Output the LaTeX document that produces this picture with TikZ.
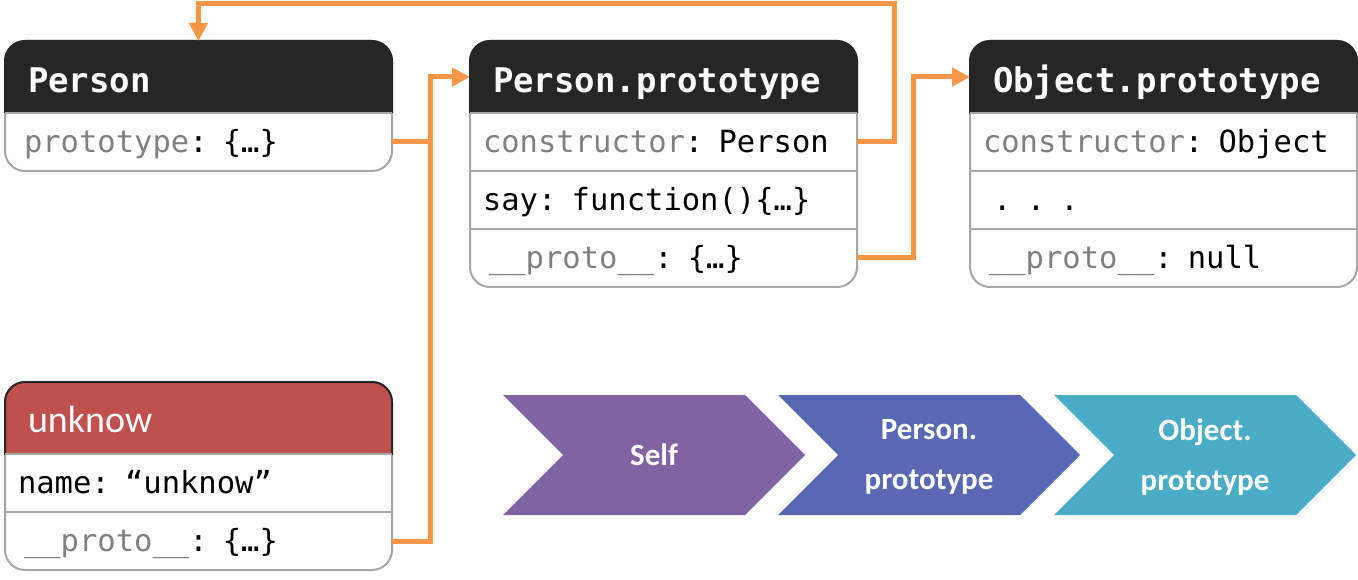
\documentclass[tikz,border=0pt]{standalone}
\usepackage{fontspec}
\setmainfont{Carlito}
\newfontfamily\mono{DejaVu Sans Mono}
\usetikzlibrary{arrows.meta,backgrounds}
\definecolor{hdrdark}{HTML}{262626}
\definecolor{hdrred}{HTML}{C0504D}
\definecolor{framegray}{HTML}{A6A6A6}
\definecolor{keygray}{HTML}{808080}
\definecolor{connorange}{HTML}{F79646}
\definecolor{chevpurple}{HTML}{8064A2}
\definecolor{chevblue}{HTML}{5A68B4}
\definecolor{chevteal}{HTML}{4BACC6}
\newcommand\kw[1]{\textcolor{keygray}{#1}}
\newcommand\drawframe[3]{%
  \begin{scope}[on background layer]
    \draw[framegray, line width=2pt, rounded corners=20pt] (#1.north west) rectangle (#2.south east);
    \begin{scope}
      \clip ([xshift=-4pt,yshift=4pt]#1.north west) rectangle ([xshift=4pt]#1.south east);
      \fill[#3, rounded corners=20pt] (#1.north west) rectangle (#2.south east);
      \draw[hdrdark, line width=2pt, rounded corners=20pt] (#1.north west) rectangle (#2.south east);
    \end{scope}
  \end{scope}}
\newcommand\divider[1]{\draw[framegray, line width=2pt] (#1.south west) -- (#1.south east);}
\newcommand\chevron[2]{\fill[#2] (#1,395) -- ++(242,0) -- ++(60,60) -- ++(-60,60) -- ++(-242,0) -- ++(60,-60) -- cycle;}
\begin{document}
\begin{tikzpicture}[x=1pt,y=-1pt,
  hdr/.style={rectangle, anchor=north west, minimum height=72pt, inner ysep=0pt,
    inner xsep=23pt, text width=341pt, align=left, text height=33pt, text depth=1pt,
    font={\mono\bfseries\fontsize{34pt}{40pt}\selectfont}, text=white, outer sep=0pt},
  uhdr/.style={hdr, font={\fontsize{38pt}{44pt}\selectfont}, text height=30pt, text depth=1pt},
  row/.style={rectangle, anchor=north west, minimum height=58pt, inner ysep=0pt,
    inner xsep=13pt, text width=361pt, align=left, text height=22pt, text depth=1pt,
    font={\mono\fontsize{30.5pt}{36pt}\selectfont}, outer sep=0pt},
  rowb/.style={row, inner xsep=19pt, text width=349pt},
  conn/.style={connorange, line width=5pt},
  arr/.style={conn, -{Triangle[length=18pt,width=18pt]}},
  chevtext/.style={text=white, align=center, font={\bfseries\fontsize{31pt}{50pt}\selectfont}}
]
\useasboundingbox (0,0) rectangle (1358,580);

% Person
\node[hdr] (person) at (5,41) {Person};
\node[rowb] (person-p) at (person.south west) {\kw{prototype}: \{…\}};
\drawframe{person}{person-p}{hdrdark}
\begin{scope}[on background layer]\divider{person}\end{scope}

% Person.prototype
\node[hdr] (pp) at (470,41) {Person.prototype};
\node[row] (pp-c) at (pp.south west) {\kw{constructor}: Person};
\node[row] (pp-s) at (pp-c.south west) {say: function()\{…\}};
\node[rowb] (pp-p) at (pp-s.south west) {\kw{\_\_proto\_\_}: \{…\}};
\drawframe{pp}{pp-p}{hdrdark}
\begin{scope}[on background layer]\divider{pp}\divider{pp-c}\divider{pp-s}\end{scope}

% Object.prototype
\node[hdr] (op) at (970,41) {Object.prototype};
\node[row] (op-c) at (op.south west) {\kw{constructor}: Object};
\node[row] (op-d) at (op-c.south west) {\ . . .};
\node[rowb] (op-p) at (op-d.south west) {\kw{\_\_proto\_\_}: null};
\drawframe{op}{op-p}{hdrdark}
\begin{scope}[on background layer]\divider{op}\divider{op-c}\divider{op-d}\end{scope}

% unknow
\node[uhdr] (unk) at (5,382) {unknow};
\node[row] (unk-n) at (unk.south west) {name: “unknow”};
\node[rowb] (unk-p) at (unk-n.south west) {\kw{\_\_proto\_\_}: \{…\}};
\drawframe{unk}{unk-p}{hdrred}
\begin{scope}[on background layer]\divider{unk}\divider{unk-n}\end{scope}

% connectors
\draw[conn] (unk-p.east) -- ++(38,0) |- (person-p.east);
\draw[arr] (person-p.east) -- ++(38,0) |- (pp.west);
\draw[arr] (pp-c.east) -- ++(37,0) |- ([yshift=37.5pt]person.north) -- (person.north);
\draw[arr] (pp-p.east) -- ++(56,0) |- (op.west);

% chevrons
\chevron{503}{chevpurple}
\chevron{778}{chevblue}
\chevron{1054}{chevteal}
\node[chevtext] (self) at (654,455) {Self};
\node[chevtext] (pproto) at (929,457) {Person.\\prototype};
\node[chevtext] (oproto) at (1205,457) {Object.\\prototype};
\end{tikzpicture}
\end{document}
